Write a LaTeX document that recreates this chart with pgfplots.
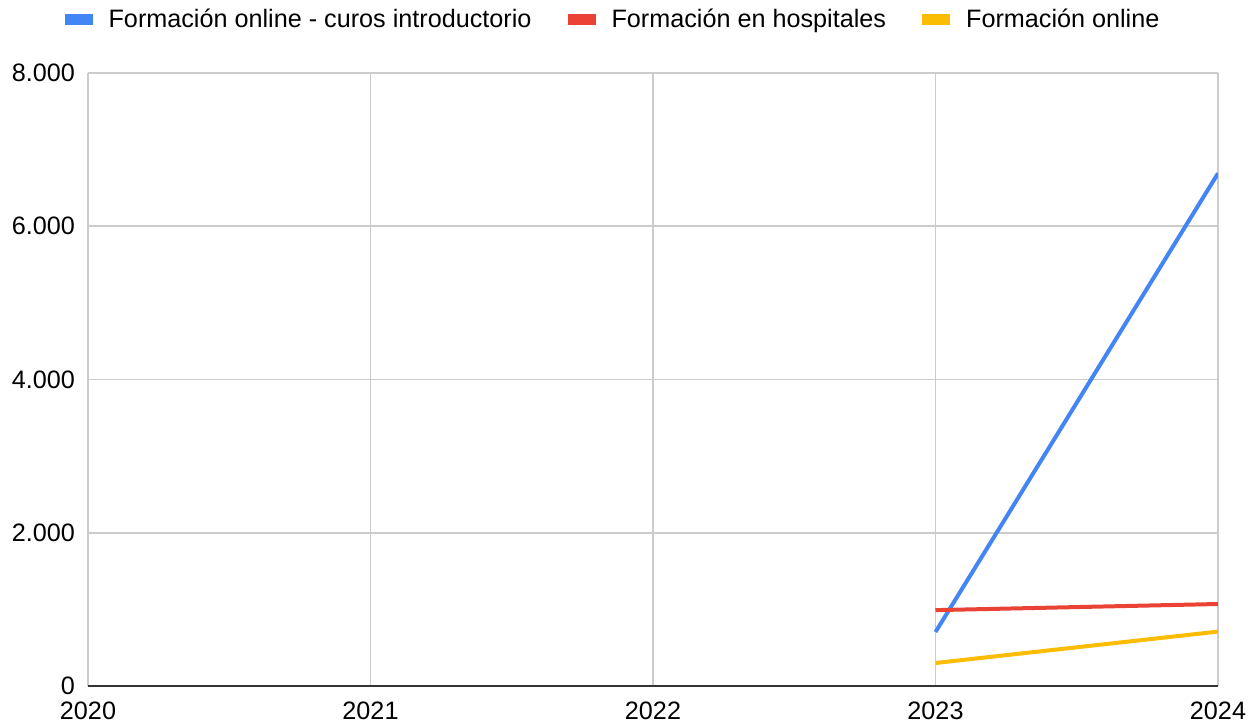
\documentclass[border=0pt]{standalone}
\usepackage{pgfplots}
\pgfplotsset{compat=1.18}
\usepackage{fontspec}
\setmainfont{Liberation Sans}
\definecolor{gblue}{HTML}{4285F4}
\definecolor{gred}{HTML}{EA4335}
\definecolor{gyellow}{HTML}{FBBC04}
\definecolor{ggrid}{HTML}{CCCCCC}
\begin{document}
\begin{tikzpicture}
\useasboundingbox (-44pt,-19pt) rectangle (586pt,343pt);
\begin{axis}[
  at={(0,0)}, anchor=south west,
  scale only axis, width=565pt, height=306.5pt,
  xmin=2020, xmax=2024, ymin=0, ymax=8000,
  xtick={2020,2021,2022,2023,2024},
  ytick={2000,4000,6000,8000},
  grid=major,
  major grid style={draw=ggrid, line width=0.8pt},
  axis line style={draw=none},
  major tick length=0pt,
  tick label style={font=\fontsize{12.6}{15}\selectfont, text=black},
  /pgf/number format/assume math mode=true,
  yticklabel style={/pgf/number format/1000 sep={.}, xshift=-3pt},
  xticklabel style={/pgf/number format/1000 sep={}, yshift=-4.5pt},
  extra y ticks={0}, extra y tick labels={0},
  extra y tick style={major grid style={draw=black!80, line width=1pt}},
  legend columns=3,
  legend style={at={(0.4655,1.0865)}, anchor=center, draw=none, fill=none,
    font=\fontsize{12.6}{15}\selectfont,
    /tikz/every odd column/.append style={column sep=6pt},
    /tikz/every even column/.append style={column sep=16pt}},
  legend image code/.code={\fill[#1] (0pt,-1.75pt) rectangle (12pt,1.75pt);},
]
\addplot[color=gblue, line width=2pt] coordinates {(2023,705) (2024,6690)};
\addlegendentry{Formación online - curos introductorio}
\addplot[color=gred, line width=2pt] coordinates {(2023,990) (2024,1070)};
\addlegendentry{Formación en hospitales}
\addplot[color=gyellow, line width=2pt] coordinates {(2023,300) (2024,710)};
\addlegendentry{Formación online}
\end{axis}
\end{tikzpicture}
\end{document}
